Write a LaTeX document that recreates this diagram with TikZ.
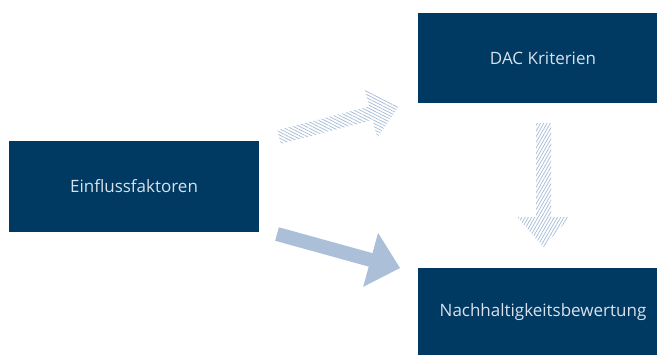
\documentclass[tikz,border=0pt]{standalone}
\usepackage{fontspec}
\setmainfont{Open Sans}
\usetikzlibrary{calc,patterns.meta}
\definecolor{boxblue}{HTML}{003962}
\definecolor{boxtext}{HTML}{D8E2EC}
\definecolor{arrowblue}{HTML}{ABC0D8}
\definecolor{hatchblue}{HTML}{A8BCD6}
\newcommand\bkarrow[6]{% style, tail, tip, half shaft, half head, head length
  \coordinate (bkC) at ($(#3)!#6!(#2)$);
  \path[#1] ($(#2)!#4!90:(#3)$) -- ($(bkC)!#4!90:(#3)$) -- ($(bkC)!#5!90:(#3)$)
    -- (#3) -- ($(bkC)!#5!-90:(#3)$) -- ($(bkC)!#4!-90:(#3)$) -- ($(#2)!#4!-90:(#3)$) -- cycle;
}
\tikzset{
  box/.style={fill=boxblue, text=boxtext, minimum width=250pt, inner sep=0pt, font=\fontsize{17}{20}\selectfont},
  solidarrow/.style={fill=arrowblue},
  hatcharrow/.style={pattern={Lines[angle=#1,distance=2.8pt,line width=0.75pt]}, pattern color=hatchblue},
}
\begin{document}
\begin{tikzpicture}[x=1pt,y=-1pt]
\useasboundingbox (0,0) rectangle (657,354);
\node[box, minimum height=91pt] (einfl) at (134,186.5) {Einflussfaktoren};
\node[box, minimum height=90pt] (dac) at (543,58) {DAC Kriterien};
\node[box, minimum height=88pt] (nach) at (543,312) {Nachhaltigkeitsbewertung};
% upper hatched arrow
\coordinate (uT) at (279,137);
\coordinate (uH) at (399,106);
\bkarrow{hatcharrow=-27}{uT}{uH}{7pt}{25.5pt}{29pt}
% vertical hatched arrow
\coordinate (vT) at (543.5,123);
\coordinate (vH) at (543.5,247);
\bkarrow{hatcharrow=60}{vT}{vH}{7.5pt}{26.5pt}{30pt}
% lower solid arrow
\coordinate (lT) at (277,234);
\coordinate (lH) at (400,268);
\bkarrow{solidarrow}{lT}{lH}{7pt}{28pt}{30.5pt}
\end{tikzpicture}
\end{document}
